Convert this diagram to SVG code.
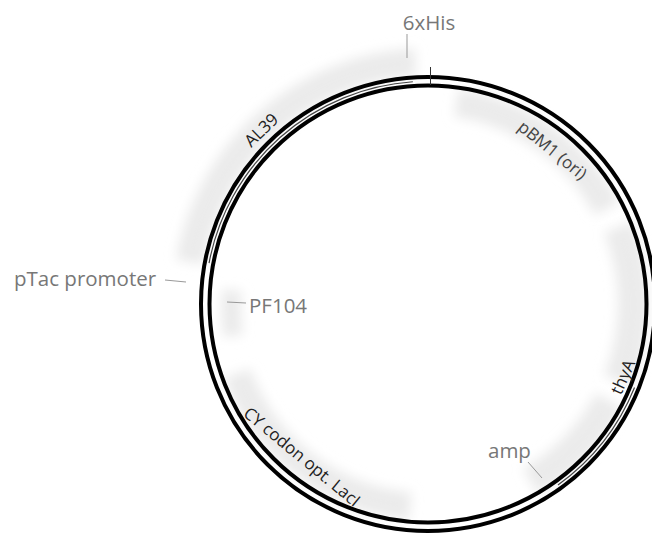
<svg xmlns="http://www.w3.org/2000/svg" width="652" height="534" viewBox="0 0 652 534">
<style>
.band{fill:none;stroke:#ebebeb;filter:url(#blur)}
.ring{fill:none;stroke:#000;stroke-width:4}
.feat{fill:none;stroke:#444;stroke-width:1.2}
.lead{stroke:#999;stroke-width:1;fill:none}
.lbl{font-family:"Open Sans","Liberation Sans",sans-serif;font-size:20.5px;fill:#777}
.arc{font-family:"Open Sans","Liberation Sans",sans-serif;font-size:17px;fill:#222;text-anchor:middle}
</style>
<defs>
<filter id="blur" filterUnits="userSpaceOnUse" x="0" y="0" width="652" height="534"><feGaussianBlur stdDeviation="6"/></filter>
</defs>
<rect width="652" height="534" fill="#fff"/>
<g id="bands">
<path class="band" stroke-width="28" d="M189.7,262 A242,242 0 0 1 415.34,62.34"/>
<path class="band" stroke-width="28" d="M456.26,102.97 A203,203 0 0 1 607.23,208.69"/>
<path class="band" stroke-width="30" d="M618.08,227.21 A205,205 0 0 1 618.08,380.79"/>
<path class="band" stroke-width="30" d="M609,400.25 A205,205 0 0 1 530.5,481.53"/>
<path class="band" stroke-width="28" d="M410.3,506.23 A203,203 0 0 1 237.24,373.43"/>
<path class="band" stroke-width="20" d="M233,336 A200,200 0 0 1 232,290"/>
</g>
<g id="backbone">
<circle class="ring" cx="428" cy="304" r="227"/>
<circle class="ring" cx="428" cy="304" r="218.5"/>
</g>
<g id="connectors">
<path class="feat" d="M209.06,263.02 A222.75,222.75 0 0 1 412.85,81.77"/>
<path class="feat" d="M634.53,387.44 A222.75,222.75 0 0 1 557.97,484.9"/>
<line x1="430.5" y1="67" x2="430.5" y2="85" stroke="#333" stroke-width="1"/>
<line class="lead" x1="407" y1="34" x2="407" y2="58"/>
<line class="lead" x1="165" y1="280" x2="186" y2="282"/>
<line class="lead" x1="227" y1="302" x2="246" y2="303"/>
<line class="lead" x1="528" y1="462" x2="542" y2="478"/>
</g>
<g id="n-6xHis"><text class="lbl" x="429" y="30" text-anchor="middle">6xHis</text></g>
<g id="n-pTac"><text class="lbl" x="14" y="286">pTac promoter</text></g>
<g id="n-PF104"><text class="lbl" x="249" y="313">PF104</text></g>
<g id="n-amp"><text class="lbl" x="488" y="458">amp</text></g>
<g id="n-AL39"><text class="arc" x="265.4" y="134.4" font-size="19" transform="rotate(-44 265.4 134.4)">AL39</text></g>
<g id="n-pBM1"><text class="arc" x="548.8" y="154.8" style="fill:#444" transform="rotate(39 548.8 154.8)">pBM1 (ori)</text></g>
<g id="n-thyA"><text class="arc" x="628.3" y="379.3" font-size="19" transform="rotate(-66 628.3 379.3)">thyA</text></g>
<g id="n-CY"><text class="arc" x="298.2" y="461.4" transform="rotate(39.5 298.2 461.4)">CY codon opt. LacI</text></g>
</svg>
